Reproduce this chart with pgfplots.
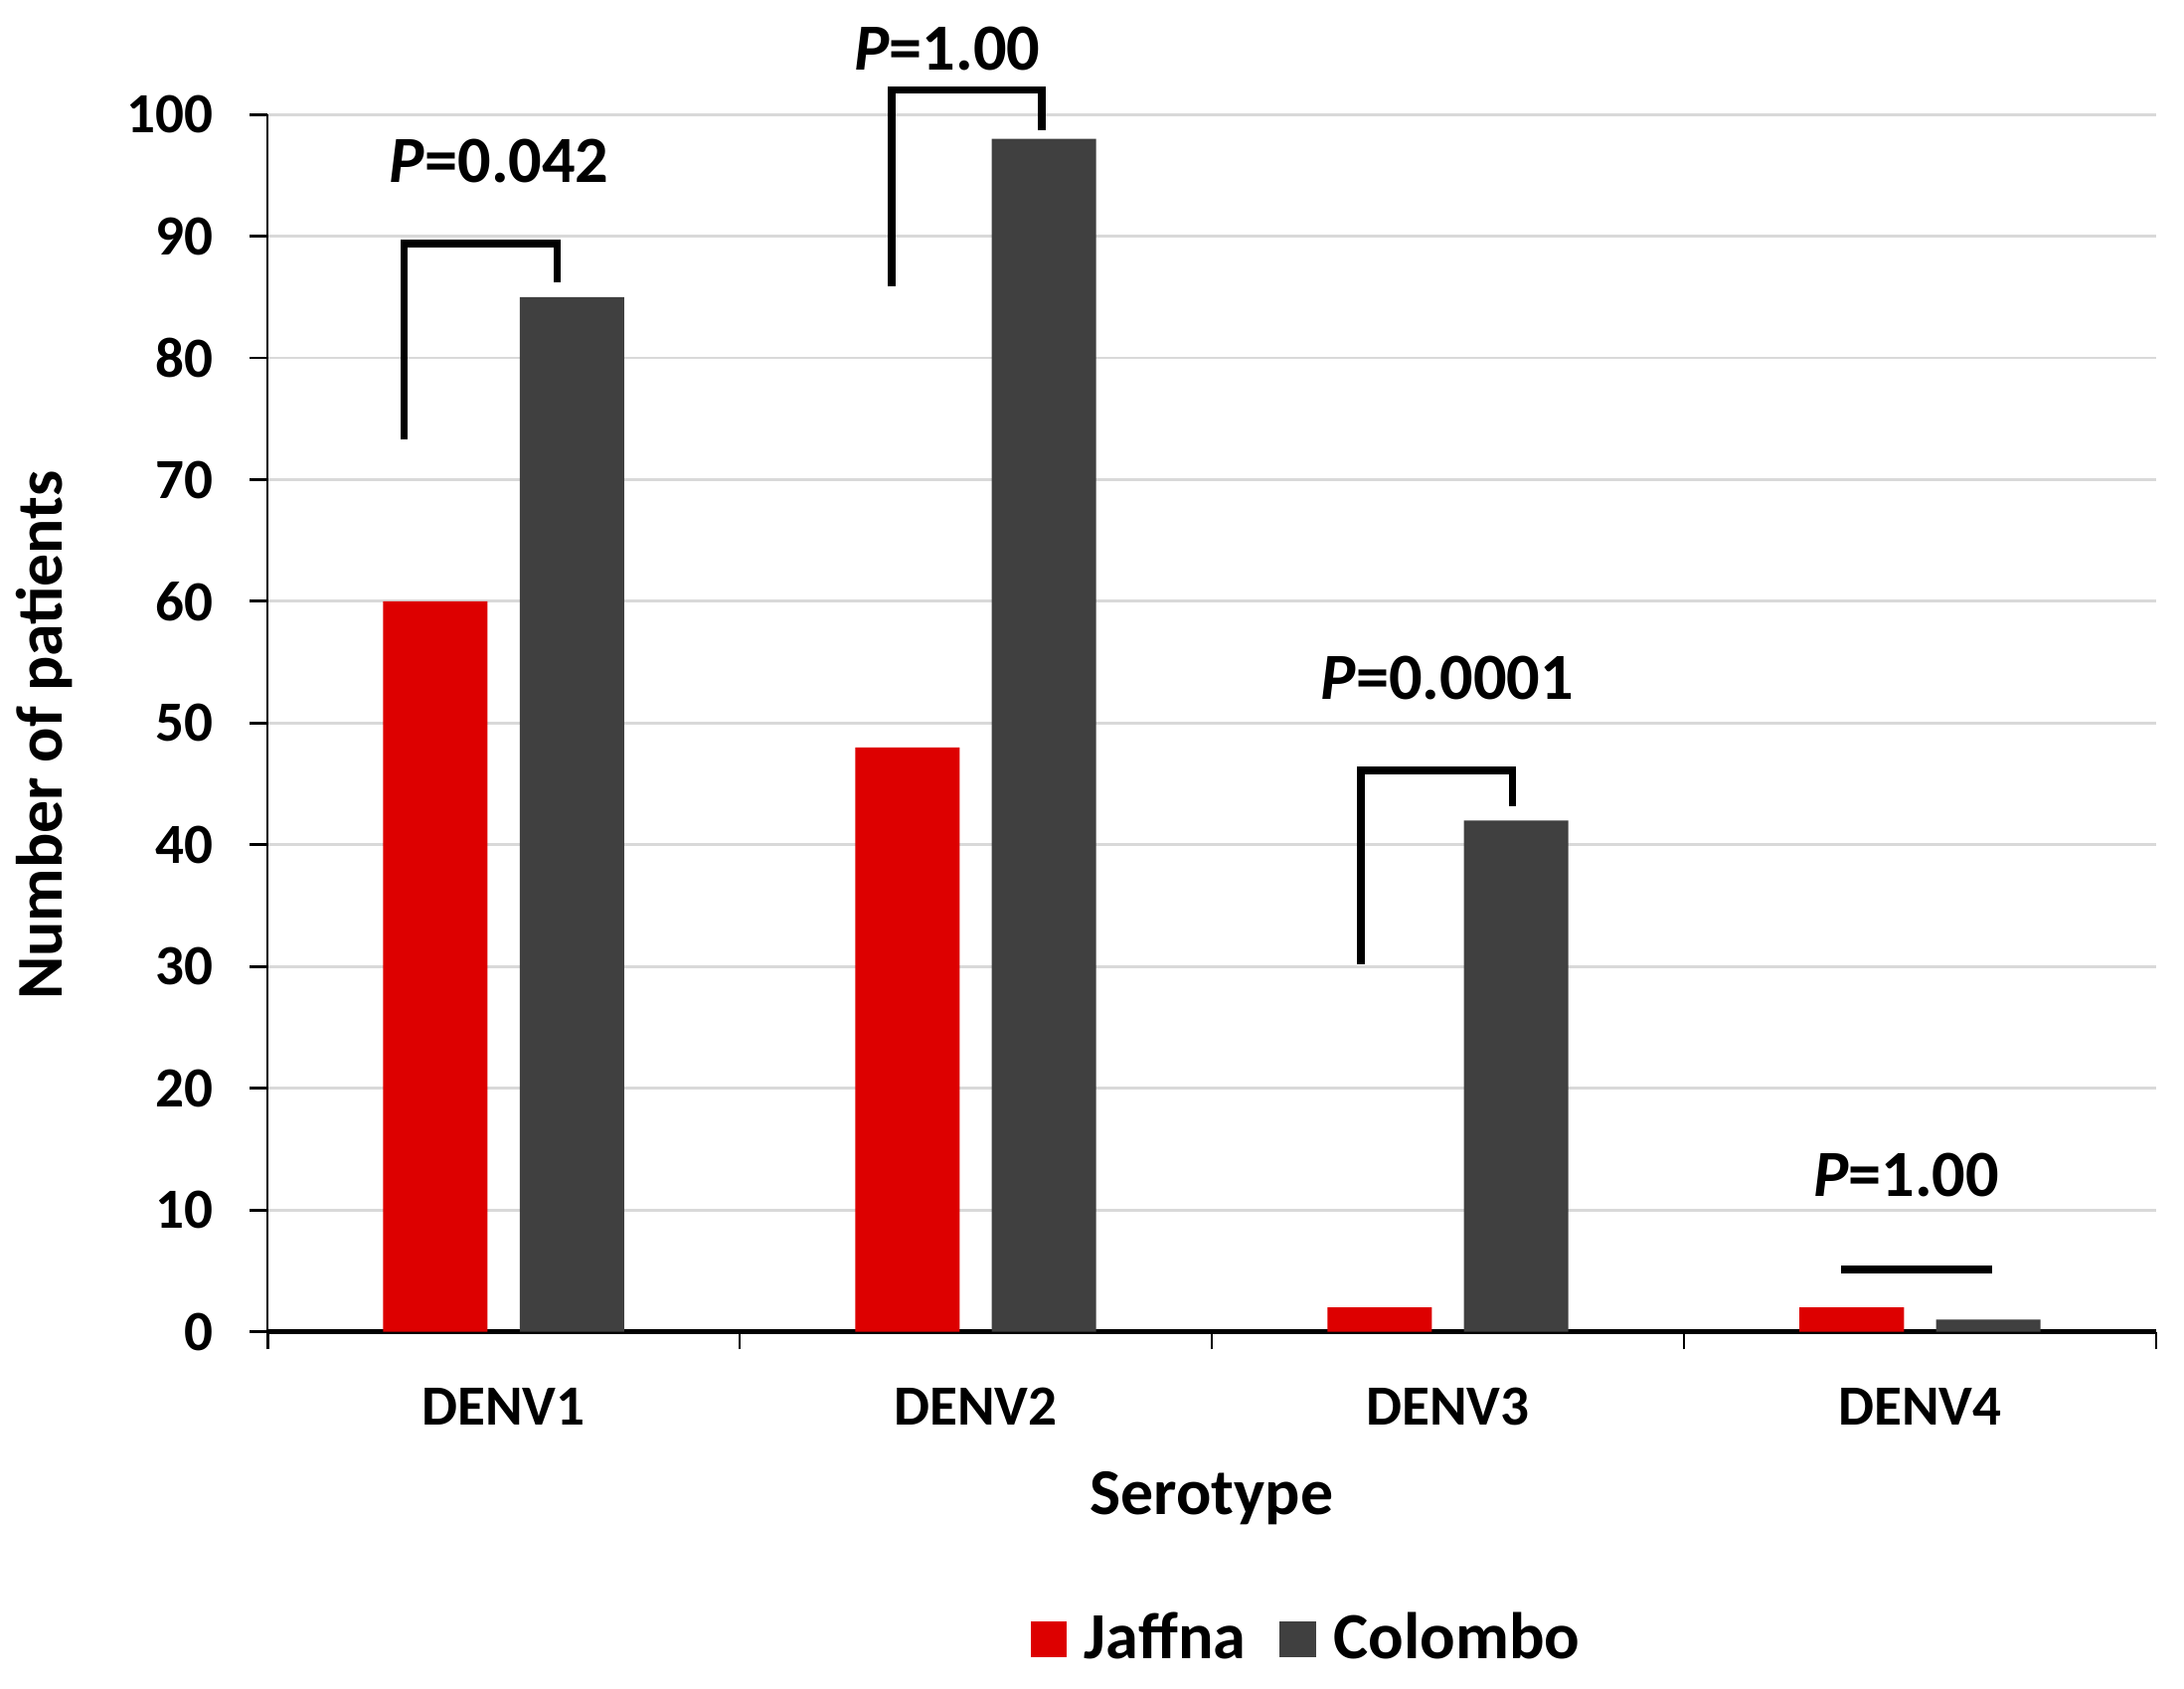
\documentclass[border=0pt]{standalone}
\usepackage{pgfplots}
\pgfplotsset{compat=1.18}
\usepackage{fontspec}
\setmainfont{Carlito}
\definecolor{jred}{HTML}{DD0000}
\definecolor{cgray}{HTML}{404040}
\definecolor{gridgray}{HTML}{D9D9D9}
\newcommand{\fs}[1]{\bfseries\fontsize{#1}{#1}\selectfont}
\begin{document}
\begin{tikzpicture}
\begin{axis}[
  at={(0,0)}, anchor=south west,
  scale only axis, width=392.6pt, height=253pt,
  xmin=-0.5, xmax=3.5, ymin=0, ymax=100,
  clip=false,
  axis x line*=bottom, axis y line*=left,
  axis line style={-},
  x axis line style={line width=0.9pt},
  y axis line style={line width=0.55pt},
  tick align=outside,
  major tick length=3.7pt,
  tick style={black, line width=0.6pt},
  xtick={-0.5,0.5,1.5,2.5,3.5}, xticklabels={},
  extra x ticks={0,1,2,3},
  extra x tick labels={DENV1,DENV2,DENV3,DENV4},
  extra x tick style={major tick length=0pt, grid=none,
     xticklabel style={anchor=center, yshift=-15.6pt, font=\fs{11.8}}},
  ytick={0,10,...,100},
  ymajorgrids,
  grid style={gridgray, line width=0.6pt},
  /pgf/number format/assume math mode=true,
  yticklabel style={font=\fs{11.8}, anchor=east, xshift=-4pt},
  ylabel={Number of patients},
  ylabel style={at={(axis description cs:-0.118,0.49)}, anchor=center, font=\fs{13.6}},
  xlabel={Serotype},
  xlabel style={at={(axis description cs:0.5,-0.137)}, anchor=center, font=\fs{13.6}},
  legend style={at={(axis description cs:0.552,-0.253)}, anchor=center, draw=none,
     font=\fs{13.7}, legend columns=2,
     /tikz/every even column/.append style={column sep=5pt}},
]
\addplot[ybar, bar width=21.7pt, bar shift=-14.2pt, fill=jred, draw=none,
  legend image code/.code={\fill[jred] (0pt,-3.7pt) rectangle (7.6pt,3.7pt); \path (9.2pt,0pt);}]
  coordinates {(0,60) (1,48) (2,2) (3,2)};
\addlegendentry{Jaffna}
\addplot[ybar, bar width=21.7pt, bar shift=14.2pt, fill=cgray, draw=none,
  legend image code/.code={\fill[cgray] (0pt,-3.7pt) rectangle (7.6pt,3.7pt); \path (9.2pt,0pt);}]
  coordinates {(0,85) (1,98) (2,42) (3,1)};
\addlegendentry{Colombo}
% significance brackets
\addplot[black, line width=1.5pt, no markers, forget plot]
  coordinates {(-0.211,73.3) (-0.211,89.4) (0.114,89.4) (0.114,86.2)};
\addplot[black, line width=1.5pt, no markers, forget plot]
  coordinates {(0.822,85.9) (0.822,102) (1.14,102) (1.14,98.7)};
\addplot[black, line width=1.5pt, no markers, forget plot]
  coordinates {(1.816,30.2) (1.816,46.1) (2.137,46.1) (2.137,43.2)};
\addplot[black, line width=1.7pt, no markers, forget plot]
  coordinates {(2.833,5.1) (3.152,5.1)};
\node[font=\fs{13.7}] at (axis cs:-0.009,96.2) {\textit{P}=0.042};
\node[font=\fs{13.7}] at (axis cs:0.94,105.4) {\textit{P}=1.00};
\node[font=\fs{13.7}] at (axis cs:1.999,53.7) {\textit{P}=0.0001};
\node[font=\fs{13.7}] at (axis cs:2.971,12.9) {\textit{P}=1.00};
\end{axis}
\pgfresetboundingbox
\useasboundingbox (-55.6pt,-74.1pt) rectangle (398.4pt,276.8pt);
\end{tikzpicture}
\end{document}
